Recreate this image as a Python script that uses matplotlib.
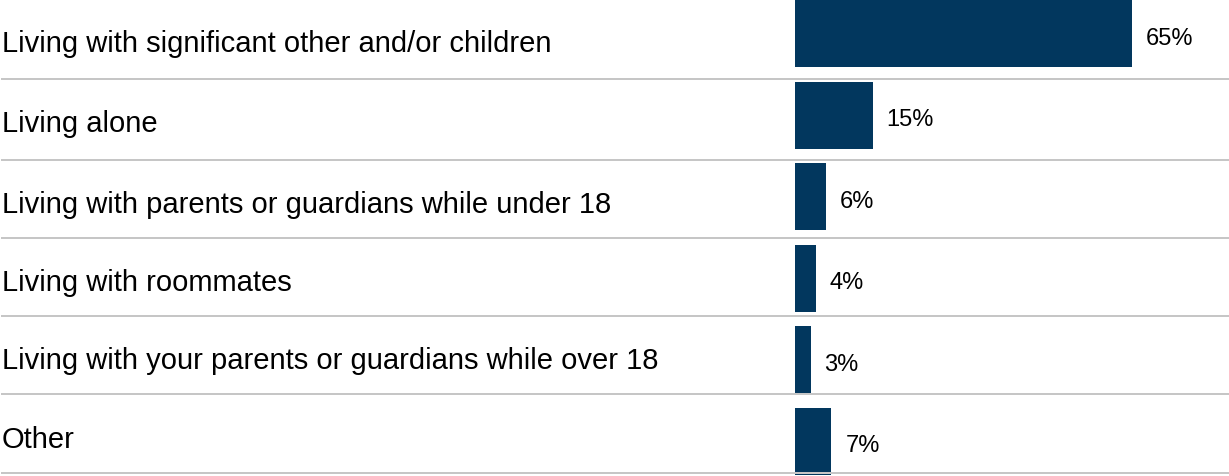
import matplotlib
matplotlib.use("Agg")
import matplotlib.pyplot as plt
from matplotlib.lines import Line2D

categories = [
    "Living with significant other and/or children",
    "Living alone",
    "Living with parents or guardians while under 18",
    "Living with roommates",
    "Living with your parents or guardians while over 18",
    "Other",
]
values = [65, 15, 6, 4, 3, 7]
value_labels = ["65%", "15%", "6%", "4%", "3%", "7%"]

W, H, DPI = 1229, 477, 100
BAR_COLOR = "#02375e"
LINE_COLOR = "#c6c6c6"

plt.rcParams["font.family"] = ["Liberation Sans", "DejaVu Sans"]

fig = plt.figure(figsize=(W / DPI, H / DPI), dpi=DPI)
ax = fig.add_axes([0, 0, 1, 1])

# layout: bars start at 795 px, ~5.18 px per percent
x0_px, px_per_unit = 795.0, 5.18
ax.set_xlim(-x0_px / px_per_unit, (W - x0_px) / px_per_unit)
pitch_px, first_center_px = 81.6, 34.5
ax.set_ylim((H - first_center_px) / pitch_px, -first_center_px / pitch_px)
ax.axis("off")

ypos = list(range(len(categories)))
ax.barh(ypos, values, height=67 / pitch_px, color=BAR_COLOR, zorder=3)

for y, v, lab in zip(ypos, values, value_labels):
    ax.annotate(lab, xy=(v, y), xytext=(14 * 72 / DPI, -10 * 72 / DPI),
                textcoords="offset points", ha="left", va="baseline",
                fontsize=17, color="#000000", zorder=4)

# row separators and category labels (pixel layout)
sep_px = [80, 161, 239, 317, 395, 474]
base_px = [52, 132.3, 213.3, 291, 369.3, 448.3]
for s in sep_px:
    fig.add_artist(Line2D([2 / W, 1], [1 - s / H, 1 - s / H],
                          color=LINE_COLOR, linewidth=2 * 72 / DPI, zorder=1))
for cat, b in zip(categories, base_px):
    fig.text(1.5 / W, 1 - b / H, cat, ha="left", va="baseline",
             fontsize=21, color="#000000")

fig.savefig("out.png", dpi=DPI)
